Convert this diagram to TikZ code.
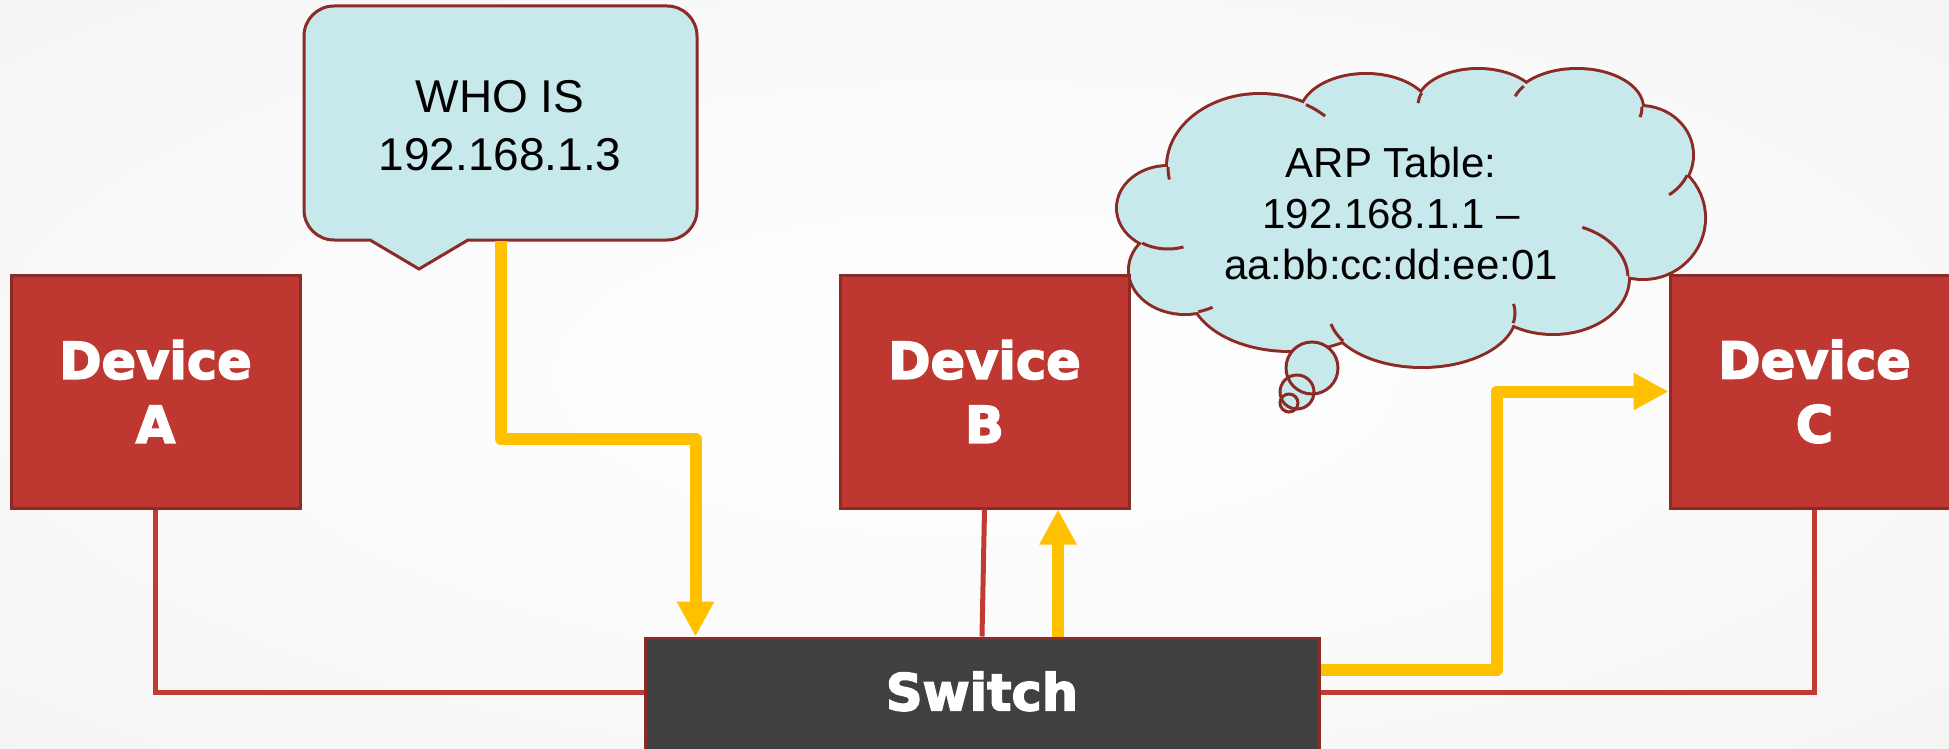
\documentclass[tikz,border=0pt]{standalone}
\usepackage{fontspec}
\setmainfont{Liberation Sans}
\newfontfamily\heavyfont{DejaVu Sans}[BoldFeatures={FakeBold=3}]
\usetikzlibrary{arrows.meta}
\definecolor{devred}{HTML}{BE3731}
\definecolor{edgered}{HTML}{8C2A25}
\definecolor{wirered}{HTML}{C23B33}
\definecolor{flowyellow}{HTML}{FFC000}
\definecolor{bubblecyan}{HTML}{C8E9EC}
\definecolor{switchgray}{HTML}{404040}
\pgfdeclareradialshading{slidebg}{\pgfpoint{0bp}{0bp}}{color(0bp)=(white); color(22bp)=(white!98!black); color(71bp)=(white!90!black)}
\begin{document}
\begin{tikzpicture}[x=0.5pt,y=-0.5pt,
  device/.style={rectangle, draw=edgered, line width=1.5pt, fill=devred, text=white,
     font=\heavyfont\bfseries\fontsize{25.5pt}{32pt}\selectfont, align=center,
     minimum width=144.5pt, minimum height=116.5pt, inner sep=0pt},
  switchbox/.style={rectangle, draw=edgered, line width=1.5pt, fill=switchgray, text=white,
     font=\heavyfont\bfseries\fontsize{25.5pt}{32pt}\selectfont,
     minimum width=337pt, minimum height=61pt, inner sep=0pt, text depth=8pt},
  wire/.style={draw=wirered, line width=2.5pt},
  flowarrow/.style={draw=flowyellow, line width=6pt, line join=round,
     -{Triangle[width=17.5pt,length=17.5pt]}},
  calloutline/.style={draw=edgered, line width=1.5pt},
  calltext/.style={font=\fontsize{23pt}{29pt}\selectfont, align=center, inner sep=0pt},
  cloudtext/.style={font=\fontsize{21pt}{25.5pt}\selectfont, align=center, inner sep=0pt},
]
\useasboundingbox (0,0) rectangle (1949,749);
\shade[shading=slidebg] (0,0) rectangle (1949,749);

% speech bubble
\draw[calloutline, fill=bubblecyan] (334,6) -- (667,6) arc[start angle=-90,end angle=0,radius=30]
  -- (697,210) arc[start angle=0,end angle=90,radius=30]
  -- (468,240) -- (419,269) -- (370,240) -- (334,240)
  arc[start angle=90,end angle=180,radius=30]
  -- (304,36) arc[start angle=180,end angle=270,radius=30] -- cycle;
\node[calltext] (who) at (500,125.5) {WHO IS\\192.168.1.3};
\coordinate (q1) at (501,241);

% cloud
\def\puffs{1168/208/50/41, 1185/270/55/43, 1290/290/99/60, 1422/313/93/53, 1553/278/75/55, 1643/218/61/60, 1640/155/52/48, 1577/108/65/38, 1478/105/60/35, 1366/115/65/40, 1260/167/92/72}
\foreach \cx/\cy/\rx/\ry in \puffs {\draw[draw=edgered, line width=3pt] (\cx,\cy) ellipse[x radius=\rx, y radius=\ry];}
\foreach \cx/\cy/\rx/\ry in \puffs {\fill[bubblecyan] (\cx,\cy) ellipse[x radius=\rx, y radius=\ry];}
\fill[bubblecyan] (1185,175) -- (1305,120) -- (1421,112) -- (1520,100) -- (1630,120) -- (1670,178)
  -- (1612,268) -- (1505,310) -- (1342,325) -- (1205,298) -- (1158,240) -- cycle;
\foreach \cx/\cy/\rx/\ry/\a/\b in {1260/167/92/72/180/170, 1260/167/92/72/-60/-45,
   1478/105/60/35/200/183, 1577/108/65/38/215/198, 1577/108/65/38/-2/14,
   1640/155/52/48/25/56, 1553/278/75/55/-2/-67, 1422/313/93/53/11/-10,
   1422/313/93/53/148/168, 1185/270/55/43/76/60, 1168/208/50/41/121/72}
  {\draw[calloutline] (\cx,\cy) ++({\rx*cos(\a)},{\ry*sin(\a)}) arc[start angle=\a, end angle=\b, x radius=\rx, y radius=\ry];}
\foreach \cx/\cy/\r in {1312/368/26, 1297/392/17, 1289/403/9}
  {\fill[bubblecyan] (\cx,\cy) circle[radius=\r];}
\foreach \cx/\cy/\r in {1312/368/26, 1297/392/17, 1289/403/9}
  {\draw[calloutline] (\cx,\cy) circle[radius=\r];}
\node[cloudtext] (arp) at (1391,213) {ARP Table:\\192.168.1.1 –\\aa:bb:cc:dd:ee:01};

% devices and switch
\node[device] (devA) at (155.5,391.5) {Device\\A};
\node[device] (devB) at (984.5,391.5) {Device\\B};
\node[device] (devC) at (1814.5,391.5) {Device\\C};
\node[switchbox] (sw) at (982,699) {Switch};

% wires
\draw[wire] (devA.south) |- ([yshift=3.5pt]sw.west);
\draw[wire] (devB.south) -- (sw.north);
\draw[wire] ([yshift=3.5pt]sw.east) -| (devC.south);

% flows
\draw[flowarrow] (q1) -- ++(0,198) -| ([xshift=26pt]sw.north west);
\coordinate (bUp) at ([xshift=38pt]sw.north);
\draw[flowarrow] (bUp) -- (bUp |- devB.south);
\coordinate (cOut) at ([yshift=14.5pt]sw.east);
\draw[flowarrow] (cOut) -- ++(176,0) |- (devC.west);
\end{tikzpicture}
\end{document}
